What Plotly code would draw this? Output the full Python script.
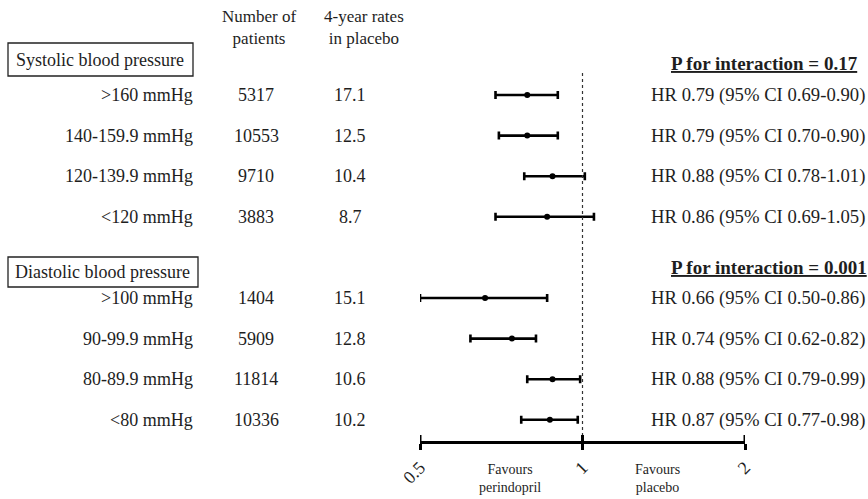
import math
import plotly.graph_objects as go

# ---------------- data ----------------
sbp_labels = [">160 mmHg", "140-159.9 mmHg", "120-139.9 mmHg", "<120 mmHg"]
sbp_n = [5317, 10553, 9710, 3883]
sbp_rate = [17.1, 12.5, 10.4, 8.7]
sbp_hr = [0.79, 0.79, 0.88, 0.86]
sbp_lo = [0.69, 0.70, 0.78, 0.69]
sbp_hi = [0.90, 0.90, 1.01, 1.05]
sbp_p = "0.17"

dbp_labels = [">100 mmHg", "90-99.9 mmHg", "80-89.9 mmHg", "<80 mmHg"]
dbp_n = [1404, 5909, 11814, 10336]
dbp_rate = [15.1, 12.8, 10.6, 10.2]
dbp_hr = [0.66, 0.74, 0.88, 0.87]
dbp_lo = [0.50, 0.62, 0.79, 0.77]
dbp_hi = [0.86, 0.82, 0.99, 0.98]
dbp_p = "0.001"

tick_vals = [0.5, 1, 2]
tick_text = ["0.5", "1", "2"]

# ---------------- layout helpers ----------------
W, H = 868, 499
FONT = "Liberation Serif, Times New Roman, serif"
TXT = "#1e1e1e"

def px(x):
    return x / W

def py(y):
    return (H - y) / H

ROW_PX = 40.6       # pixel distance between rows
ROW0_PX = 95        # pixel of first row
AXIS_PX = 441       # pixel of the x axis line
y_top = -ROW0_PX / ROW_PX
y_bot = (AXIS_PX - ROW0_PX) / ROW_PX

labels = sbp_labels + dbp_labels
ns = sbp_n + dbp_n
rates = sbp_rate + dbp_rate
hrs = sbp_hr + dbp_hr
los = sbp_lo + dbp_lo
his = sbp_hi + dbp_hi
rows = list(range(len(sbp_labels))) + [len(sbp_labels) + 1 + i for i in range(len(dbp_labels))]

fig = go.Figure()
fig.add_trace(go.Scatter(
    x=hrs, y=rows, mode="markers",
    marker=dict(color="black", size=6, symbol="circle"),
    error_x=dict(type="data", symmetric=False,
                 array=[h - m for h, m in zip(his, hrs)],
                 arrayminus=[m - l for m, l in zip(hrs, los)],
                 color="black", thickness=2.6, width=4),
    cliponaxis=False, showlegend=False, hoverinfo="skip",
))

ann = []
def add_text(text, x, y, yref="y", xanchor="center", size=18):
    ann.append(dict(text=text, x=x, y=y, xref="paper", yref=yref,
                    xanchor=xanchor, yanchor="middle", showarrow=False,
                    font=dict(family=FONT, size=size, color=TXT)))

for lab, n, r, h, l, u, row in zip(labels, ns, rates, hrs, los, his, rows):
    add_text(lab, px(195), row, xanchor="right", size=18)
    add_text(str(n), px(256), row, size=18)
    add_text(f"{r:.1f}", px(350), row, size=18)
    add_text(f"HR {h:.2f} (95% CI {l:.2f}-{u:.2f})", px(649), row, xanchor="left", size=18.7)

# column headers
add_text("Number of<br>patients", px(259), py(28), yref="paper", size=17)
add_text("4-year rates<br>in placebo", px(364), py(28), yref="paper", size=17)

# group headers
add_text("Systolic blood pressure", px(14), py(60), yref="paper", xanchor="left", size=18)
add_text("Diastolic blood pressure", px(13), py(272), yref="paper", xanchor="left", size=18)
add_text(f"<b><u>P for interaction = {sbp_p}</u></b>", px(669), py(63), yref="paper", xanchor="left", size=19)
add_text(f"<b><u>P for interaction = {dbp_p}</u></b>", px(669), py(267), yref="paper", xanchor="left", size=19)

# favours labels
add_text("Favours<br>perindopril", px(510), py(478), yref="paper", size=14)
add_text("Favours<br>placebo", px(657), py(478), yref="paper", size=14)

shapes = [
    dict(type="rect", xref="paper", yref="paper", x0=px(8), x1=px(193), y0=py(43), y1=py(76),
         line=dict(color="#222", width=1.3)),
    dict(type="rect", xref="paper", yref="paper", x0=px(8), x1=px(198), y0=py(257), y1=py(287),
         line=dict(color="#222", width=1.3)),
    dict(type="line", xref="x", yref="y", x0=1, x1=1, y0=y_top + 73 / ROW_PX, y1=y_bot,
         line=dict(color="#333", width=1.2, dash="dot")),
]
for v in tick_vals:
    shapes.append(dict(type="line", xref="x", yref="y", x0=v, x1=v, y0=y_bot, y1=y_bot - 6 / ROW_PX,
                       line=dict(color="black", width=3)))

fig.update_layout(
    width=W, height=H, margin=dict(l=0, r=0, t=0, b=0, autoexpand=False),
    paper_bgcolor="white", plot_bgcolor="white",
    xaxis=dict(type="log", range=[math.log10(0.5), math.log10(2)],
               domain=[px(420), px(745)], showgrid=False, zeroline=False,
               automargin=False,
               showline=True, linecolor="black", linewidth=3,
               ticks="outside", ticklen=6, tickwidth=3, tickcolor="black",
               tickvals=tick_vals, ticktext=tick_text, tickangle=-45,
               tickfont=dict(family=FONT, size=18, color=TXT)),
    yaxis=dict(range=[y_bot, y_top], domain=[(H - AXIS_PX) / H, 1], visible=False,
               automargin=False),
    annotations=ann, shapes=shapes,
)

fig.write_html("out.html")
